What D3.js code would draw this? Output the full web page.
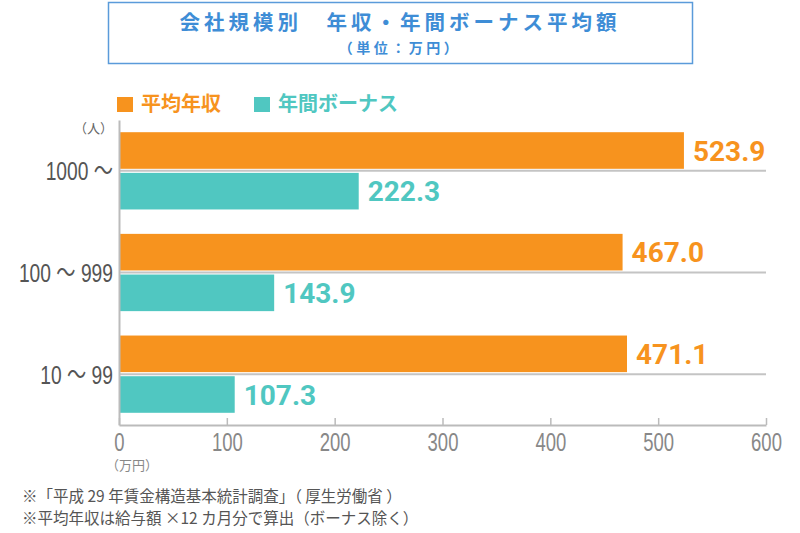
<!DOCTYPE html>
<html><head><meta charset="utf-8">
<script src="https://cdn.jsdelivr.net/npm/d3@7"></script>
<style>body{margin:0;background:#fff;}svg{display:block;}</style>
</head><body>
<svg id="c" width="800" height="533"></svg>
<script>
const categories = ["1000 ～", "100 ～ 999", "10 ～ 99"];
const seriesNames = ["平均年収", "年間ボーナス"];
const annualIncome = [523.9, 467.0, 471.1];
const bonus = [222.3, 143.9, 107.3];
const xTicks = [0, 100, 200, 300, 400, 500, 600];
const titleText = "会社規模別　年収・年間ボーナス平均額";
const subtitleText = "（単位：万円）";
const notes = ["※「平成 29 年賃金構造基本統計調査」（ 厚生労働省 ）", "※平均年収は給与額 ×12 カ月分で算出（ボーナス除く）"];

const colors = ["#F7931E", "#50C7C1"];
const svg = d3.select("#c");
const jp = "'Noto Sans CJK JP','Noto Sans',sans-serif";
const narrow = "'Liberation Sans','Noto Sans CJK JP',sans-serif";

// title box
svg.append("rect").attr("x", 108.5).attr("y", 2.5).attr("width", 584).attr("height", 61)
  .attr("fill", "#fff").attr("stroke", "#5A9BDA").attr("stroke-width", 1.5);
svg.append("text").attr("x", 400).attr("y", 30).attr("text-anchor", "middle")
  .attr("font-family", jp).attr("font-weight", 700).attr("font-size", 20.5)
  .attr("letter-spacing", 4).attr("fill", "#3E8DD6").text(titleText);
svg.append("text").attr("x", 400).attr("y", 53).attr("text-anchor", "middle")
  .attr("font-family", jp).attr("font-weight", 700).attr("font-size", 14)
  .attr("letter-spacing", 3.5).attr("fill", "#3E8DD6").text(subtitleText);

// legend
const legX = [117, 254];
seriesNames.forEach((n, i) => {
  svg.append("rect").attr("x", legX[i]).attr("y", 97).attr("width", 16).attr("height", 15).attr("fill", colors[i]);
  svg.append("text").attr("x", legX[i] + 24).attr("y", 111).attr("font-family", jp)
    .attr("font-weight", 700).attr("font-size", 20).attr("fill", colors[i]).text(n);
});

const x = d3.scaleLinear().domain([0, 600]).range([119, 766]);
const y = d3.scaleBand().domain(categories).range([120, 425]).paddingInner(0.24).paddingOuter(0.12);
const inner = d3.scaleBand().domain([0, 1]).range([0, y.bandwidth()]).paddingInner(0.1);

const g = svg.append("g");
// gridlines at category centers
g.selectAll(".grid").data(categories).join("line")
  .attr("x1", x(0)).attr("x2", x(600))
  .attr("y1", d => y(d) + y.bandwidth() / 2).attr("y2", d => y(d) + y.bandwidth() / 2)
  .attr("stroke", "#c4c4c4").attr("stroke-width", 2);

// bars
const data = categories.map((c, i) => ({c, v: [annualIncome[i], bonus[i]]}));
data.forEach(d => {
  d.v.forEach((v, k) => {
    g.append("rect").attr("x", x(0)).attr("y", y(d.c) + inner(k))
      .attr("width", x(v) - x(0)).attr("height", inner.bandwidth()).attr("fill", colors[k]);
    g.append("text").attr("x", x(v) + 9).attr("y", y(d.c) + inner(k) + inner.bandwidth() / 2)
      .attr("dy", "0.36em").attr("font-family", "Roboto,sans-serif").attr("font-weight", 700)
      .attr("font-size", 28).attr("fill", colors[k]).text(v.toFixed(1));
  });
});

const sx = 0.74;
// x axis
const xAxis = g.append("g").attr("transform", "translate(0,425)")
  .call(d3.axisBottom(x).tickValues(xTicks).tickSizeInner(-7).tickSizeOuter(0).tickPadding(0));
xAxis.select(".domain").attr("stroke", "#bbb").attr("stroke-width", 2);
xAxis.selectAll(".tick line").attr("stroke", "#bbb").attr("stroke-width", 1.5);
xAxis.selectAll("text").attr("font-family", narrow).attr("font-size", 25).attr("fill", "#888")
  .attr("dy", null).attr("y", 26).attr("transform", `scale(${sx},1)`);

// y axis
const yAxis = g.append("g").attr("transform", "translate(119,0)")
  .call(d3.axisLeft(y).tickSize(0).tickPadding(0));
yAxis.select(".domain").attr("stroke", "#bbb").attr("stroke-width", 2);
yAxis.selectAll("text").attr("font-family", narrow).attr("font-size", 26).attr("fill", "#555")
  .attr("x", -6 / sx).attr("dy", "0.36em").attr("transform", `scale(${sx},1)`);

svg.append("text").attr("x", 113).attr("y", 133).attr("text-anchor", "end")
  .attr("font-family", jp).attr("font-size", 13).attr("fill", "#666").text("（人）");
svg.append("text").attr("x", 106).attr("y", 470)
  .attr("font-family", jp).attr("font-size", 13).attr("fill", "#888").text("（万円）");

notes.forEach((t, i) => {
  svg.append("text").attr("x", 22).attr("y", 502 + i * 22).attr("font-family", jp)
    .attr("font-size", 15.5).attr("fill", "#555").text(t);
});
</script>
</body></html>
